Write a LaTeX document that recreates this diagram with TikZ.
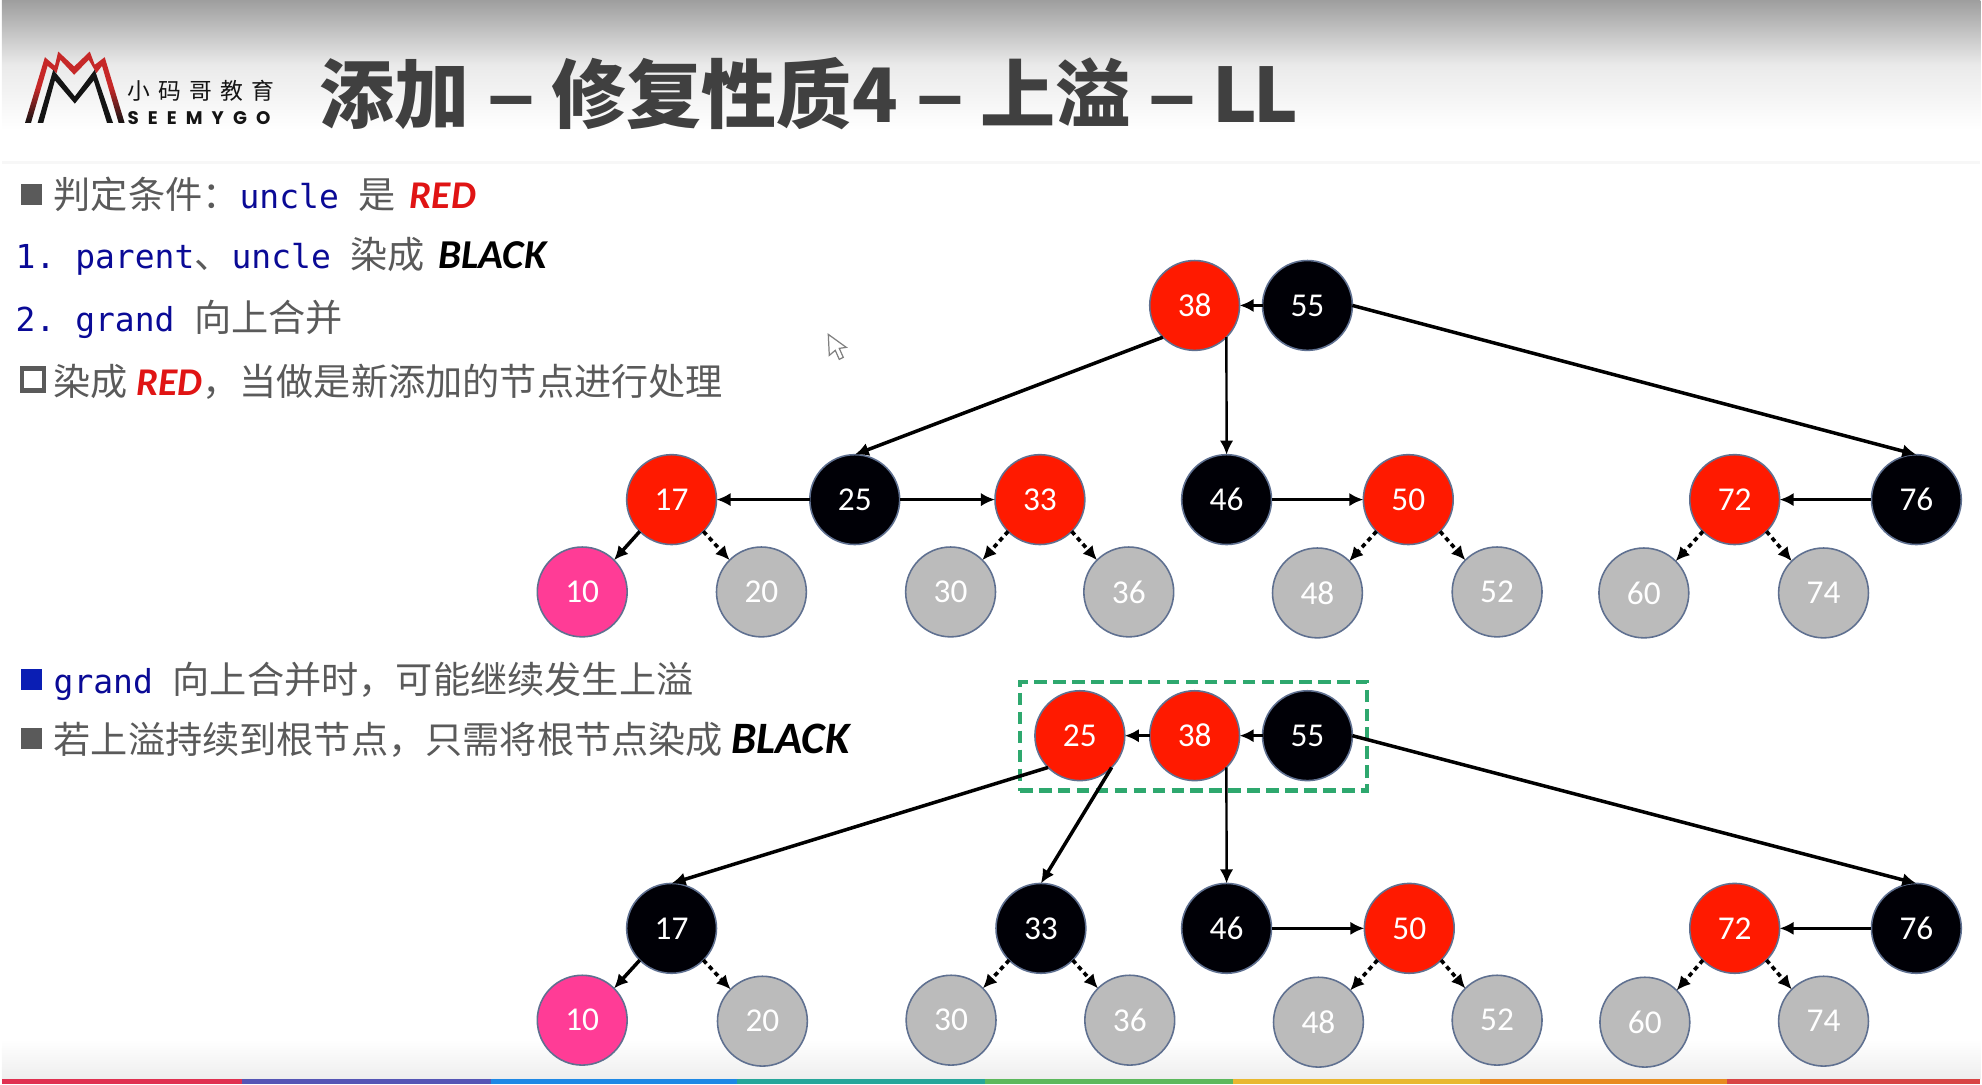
\documentclass[tikz,border=0pt]{standalone}
\usepackage{fontspec}
\usetikzlibrary{arrows.meta}
\setmainfont{Noto Sans CJK SC}
\newfontfamily\keyfont{Carlito}
\newfontfamily\codefont{DejaVu Sans Mono}
\newfontfamily\dashfont{Liberation Sans}
\newfontfamily\brandcjk[LetterSpace=36]{Noto Sans CJK SC}
\newfontfamily\brandlat[LetterSpace=50]{Poppins}
\definecolor{HeadGrey}{HTML}{9E9E9E}
\definecolor{HeadMid}{HTML}{EAEAEA}
\definecolor{HeadLine}{HTML}{F7F7F7}
\definecolor{FootGrey}{HTML}{EEEEEE}
\definecolor{TitleGrey}{HTML}{404040}
\definecolor{BodyGrey}{HTML}{5A5A5A}
\definecolor{CodeBlue}{HTML}{0A0A96}
\definecolor{BulletBlue}{HTML}{0A1EB4}
\definecolor{KeyRed}{HTML}{E01414}
\definecolor{NodeRed}{HTML}{FF1A00}
\definecolor{NodeBlack}{HTML}{000006}
\definecolor{NodePink}{HTML}{FF3C96}
\definecolor{NodeGrey}{HTML}{BBBBBB}
\definecolor{NodeEdge}{HTML}{5F7090}
\definecolor{MergeGreen}{HTML}{2EA86E}
\definecolor{LogoRed}{HTML}{C62828}
\definecolor{LogoBlack}{HTML}{141414}
\definecolor{StripRed}{HTML}{E03050}
\definecolor{StripIndigo}{HTML}{5555B5}
\definecolor{StripBlue}{HTML}{1E88E5}
\definecolor{StripTeal}{HTML}{26A69A}
\definecolor{StripGreen}{HTML}{5CB85C}
\definecolor{StripYellow}{HTML}{E8B830}
\definecolor{StripOrange}{HTML}{E88B20}
\definecolor{StripCoral}{HTML}{D84545}
\newcommand{\codetxt}[1]{{\codefont\fontsize{9.4pt}{11pt}\selectfont\color{CodeBlue}#1}}
\newcommand{\redtxt}[1]{{\keyfont\fontsize{11.2pt}{13pt}\selectfont\bfseries\itshape\color{KeyRed}#1}}
\newcommand{\blacktxt}[2][11.7pt]{{\keyfont\fontsize{#1}{13pt}\selectfont\bfseries\itshape\color{black}#2}}
\newcommand{\titledash}{{\dashfont\fontsize{23.5pt}{24pt}\selectfont\hspace{.6pt}–}}
\begin{document}
\frenchspacing
\begin{tikzpicture}[>={Latex[length=4pt,width=3.8pt]},
  every node/.style={inner sep=0pt,outer sep=0pt},
  treenode/.style={circle,draw=NodeEdge,line width=.45pt,minimum size=.9cm,text=white,font=\keyfont\fontsize{9.5pt}{10pt}\selectfont},
  rednode/.style={treenode,fill=NodeRed},blacknode/.style={treenode,fill=NodeBlack},
  pinknode/.style={treenode,fill=NodePink},greynode/.style={treenode,fill=NodeGrey},
  treelink/.style={->,line width=1pt},thinlink/.style={->,line width=.7pt},nulllink/.style={->,line width=1.05pt,dash pattern=on 1.3pt off 1.1pt},
  bodyline/.style={anchor=west,text=BodyGrey,font=\fontsize{10.6pt}{12pt}\selectfont},
  bulletbox/.style={rectangle,minimum size=.21cm},
  mergebox/.style={rectangle,draw=MergeGreen,line width=1.2pt,dash pattern=on 3.6pt off 1.8pt,minimum width=3.48cm,minimum height=1.09cm}]
\fill[white] (0,0) rectangle (19.82,10.86);
\shade[top color=HeadGrey,bottom color=white,middle color=HeadMid] (0,9.56) rectangle (19.82,10.86);
\draw[HeadLine,line width=1pt] (0,9.23)--(19.82,9.23);
\shade[top color=white,bottom color=FootGrey] (0,.05) rectangle (19.82,.45);
\fill[StripRed] (0,0) rectangle (2.41,.05);\fill[StripIndigo] (2.41,0) rectangle (4.90,.05);\fill[StripBlue] (4.90,0) rectangle (7.37,.05);\fill[StripTeal] (7.37,0) rectangle (9.85,.05);
\fill[StripGreen] (9.85,0) rectangle (12.33,.05);\fill[StripYellow] (12.33,0) rectangle (14.81,.05);\fill[StripOrange] (14.81,0) rectangle (17.28,.05);\fill[StripCoral] (17.28,0) rectangle (19.82,.05);
\begin{scope}[shift={(.10,10.46)},x=.00333cm,y=-.00333cm]
\shade[top color=LogoRed,bottom color=LogoBlack,middle color=LogoRed] (40,250)--(100,52)--(130,78)--(140,35)--(188,80)--(235,35)--(250,75)--(280,52)--(340,250)--(322,250)--(272,78)--(255,100)--(232,60)--(188,105)--(146,60)--(135,100)--(108,78)--(58,250)--cycle;
\fill[LogoBlack] (78,250)--(125,90)--(190,170)--(250,90)--(305,250)--(287,250)--(247,122)--(190,192)--(130,122)--(95,250)--cycle;
\end{scope}
\node[anchor=west,text=LogoBlack,font=\brandcjk\fontsize{6.5pt}{7pt}\selectfont] (brandcn) at (1.26,9.95) {小码哥教育};
\node[anchor=west,text=LogoBlack,font=\brandlat\fontsize{5.2pt}{6pt}\selectfont\bfseries] (brandlat) at (1.26,9.68) {SEEMYGO};
\node[anchor=west,text=TitleGrey,font=\fontsize{21.4pt}{24pt}\selectfont\bfseries] (title) at (3.18,9.92) {添加 \titledash{} 修复性质4 \titledash{} 上溢 \titledash{} L\hspace{-1.2pt}L};
\node[bulletbox,fill=BodyGrey] (b1) at (.295,8.91) {};\node[bodyline] (l1) at (.52,8.91) {判定条件：\codetxt{uncle }是\hspace{1.6pt} \redtxt{RED}};
\node[bodyline] (l2) at (.14,8.29) {\codetxt{1. parent}、\codetxt{uncle }染成\hspace{1.4pt} \blacktxt{BLACK}};
\node[bodyline] (l3) at (.14,7.66) {\codetxt{2. grand }向上合并};
\node[bulletbox,draw=BodyGrey,line width=1.3pt,fill=white,minimum size=.22cm] (b2) at (.315,7.06) {};\node[bodyline] (l4) at (.52,7.04) {染成 \redtxt{RED}，当做是新添加的节点进行处理};
\node[bulletbox,fill=BulletBlue] (b3) at (.295,4.05) {};\node[bodyline] (l5) at (.52,4.03) {\codetxt{grand }向上合并时，可能继续发生上溢};
\node[bulletbox,fill=BodyGrey] (b4) at (.295,3.46) {};\node[bodyline] (l6) at (.52,3.45) {若上溢持续到根节点，只需将根节点染成 \blacktxt[12.8pt]{BLACK}};
\draw[fill=white,draw=gray,line width=.35pt] (8.28,7.51)--(8.29,7.30)--(8.35,7.35)--(8.39,7.26)--(8.43,7.28)--(8.39,7.37)--(8.46,7.38)--cycle;
\node[rednode] (t38) at (11.95,7.80) {38};\node[blacknode] (t55) at (13.08,7.80) {55};
\node[rednode] (t17) at (6.71,5.855) {17};\node[blacknode] (t25) at (8.545,5.855) {25};\node[rednode] (t33) at (10.40,5.855) {33};
\node[blacknode] (t46) at (12.27,5.855) {46};\node[rednode] (t50) at (14.09,5.855) {50};\node[rednode] (t72) at (17.36,5.855) {72};\node[blacknode] (t76) at (19.18,5.855) {76};
\node[pinknode] (t10) at (5.815,4.93) {10};\node[greynode] (t20) at (7.61,4.93) {20};\node[greynode] (t30) at (9.505,4.93) {30};\node[greynode] (t36) at (11.29,4.93) {36};
\node[greynode] (t48) at (13.18,4.92) {48};\node[greynode] (t52) at (14.98,4.93) {52};\node[greynode] (t60) at (16.45,4.92) {60};\node[greynode] (t74) at (18.25,4.92) {74};
\draw[treelink] (t55.west)--(t38.east);\draw[treelink] (t38.-135)--(t25.north);\draw[thinlink] (t38.-45)--(t46.north);\draw[treelink] (t55.east)--(t76.north);
\draw[treelink] (t25.west)--(t17.east);\draw[treelink] (t25.east)--(t33.west);\draw[treelink] (t46.east)--(t50.west);\draw[treelink] (t76.west)--(t72.east);
\draw[treelink] (t17.-135)--(t10.45);\draw[nulllink] (t17.-45)--(t20.135);\draw[nulllink] (t33.-135)--(t30.45);\draw[nulllink] (t33.-45)--(t36.135);
\draw[nulllink] (t50.-135)--(t48.45);\draw[nulllink] (t50.-45)--(t52.135);\draw[nulllink] (t72.-135)--(t60.45);\draw[nulllink] (t72.-45)--(t74.135);
\node[rednode] (m25) at (10.80,3.49) {25};\node[rednode] (m38) at (11.95,3.49) {38};\node[blacknode] (m55) at (13.08,3.49) {55};
\node[mergebox] (merged) at (11.94,3.485) {};
\node[blacknode] (m17) at (6.71,1.56) {17};\node[blacknode] (m33) at (10.41,1.56) {33};\node[blacknode] (m46) at (12.27,1.56) {46};\node[rednode] (m50) at (14.10,1.56) {50};\node[rednode] (m72) at (17.36,1.56) {72};\node[blacknode] (m76) at (19.18,1.56) {76};
\node[pinknode] (m10) at (5.815,.64) {10};\node[greynode] (m20) at (7.62,.63) {20};\node[greynode] (m30) at (9.51,.64) {30};\node[greynode] (m36) at (11.30,.64) {36};
\node[greynode] (m48) at (13.19,.62) {48};\node[greynode] (m52) at (14.98,.64) {52};\node[greynode] (m60) at (16.46,.62) {60};\node[greynode] (m74) at (18.25,.63) {74};
\draw[treelink] (m38.west)--(m25.east);\draw[treelink] (m55.west)--(m38.east);\draw[treelink] (m25.-135)--(m17.north);\draw[treelink] (m25.-45)--(m33.north);\draw[thinlink] (m38.-45)--(m46.north);\draw[treelink] (m55.east)--(m76.north);
\draw[treelink] (m46.east)--(m50.west);\draw[treelink] (m76.west)--(m72.east);
\draw[treelink] (m17.-135)--(m10.45);\draw[nulllink] (m17.-45)--(m20.135);\draw[nulllink] (m33.-135)--(m30.45);\draw[nulllink] (m33.-45)--(m36.135);
\draw[nulllink] (m50.-135)--(m48.45);\draw[nulllink] (m50.-45)--(m52.135);\draw[nulllink] (m72.-135)--(m60.45);\draw[nulllink] (m72.-45)--(m74.135);
\end{tikzpicture}
\end{document}
